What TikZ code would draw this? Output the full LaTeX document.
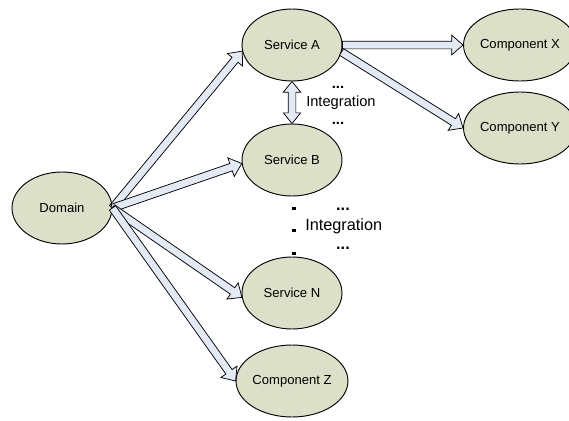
\documentclass[tikz,border=0pt]{standalone}
\usepackage{fontspec}
\setmainfont{Liberation Sans}
\usetikzlibrary{calc,shapes.geometric}
\definecolor{olivebg}{HTML}{DDE0C9}
\definecolor{arrowbg}{HTML}{E3E9F5}
\tikzset{
	part/.style={draw, ellipse, fill=olivebg, line width=0.7pt, minimum width=75pt, minimum height=54pt, inner sep=0pt, font=\fontsize{9.8}{11}\selectfont},
	conn/.style={draw, fill=arrowbg, line width=0.55pt, line join=miter},
	note/.style={inner sep=0pt, font=\fontsize{11}{13}\selectfont},
	bignote/.style={inner sep=0pt, font=\fontsize{12.2}{14}\selectfont}
}
% hollow block arrow from #1 to #2
\newcommand{\blockarrow}[2]{%
	\coordinate (neck) at ($(#2)!8.5pt!(#1)$);
	\filldraw[conn] ($(#1)!2.9pt!90:(#2)$) -- ($(neck)!2.9pt!90:(#2)$) -- ($(neck)!7.4pt!90:(#2)$) -- (#2)
		-- ($(neck)!7.4pt!-90:(#2)$) -- ($(neck)!2.9pt!-90:(#2)$) -- ($(#1)!2.9pt!-90:(#2)$) -- cycle;
}
% hollow block arrow with two heads
\newcommand{\dblarrow}[2]{%
	\coordinate (necka) at ($(#1)!8pt!(#2)$);
	\coordinate (neckb) at ($(#2)!8pt!(#1)$);
	\filldraw[conn] (#1) -- ($(necka)!6.5pt!90:(#2)$) -- ($(necka)!2.9pt!90:(#2)$) -- ($(neckb)!2.9pt!90:(#2)$)
		-- ($(neckb)!6.5pt!90:(#2)$) -- (#2) -- ($(neckb)!6.5pt!-90:(#2)$) -- ($(neckb)!2.9pt!-90:(#2)$)
		-- ($(necka)!2.9pt!-90:(#2)$) -- ($(necka)!6.5pt!-90:(#2)$) -- cycle;
}
\begin{document}
\begin{tikzpicture}[x=0.75pt, y=-0.75pt]
	\useasboundingbox (0,0) rectangle (569,421);

	\node [part] (dom) at (62, 208) {Domain};
	\node [part] (sa) at (292, 45) {Service A};
	\node [part] (sb) at (292, 160) {Service B};
	\node [part] (sn) at (292, 293) {Service N};
	\node [part] (cz) at (292, 381) {Component Z};
	\node [part, minimum width=73.5pt] (cx) at (520, 45) {Component X};
	\node [part, minimum width=73.5pt] (cy) at (520, 128) {Component Y};

	\blockarrow{dom.east}{sa.187}
	\blockarrow{dom.east}{sb.184}
	\blockarrow{dom.east}{sn.185}
	\blockarrow{dom.east}{cz.west}
	\blockarrow{sa.east}{cx.west}
	\blockarrow{sa.-8}{cy.west}
	\dblarrow{sa.south}{sb.north}

	% integration between A and B
	\node [note, anchor=base] (dotsa) at (338, 89) {\textbf{...}};
	\node [note, anchor=west] (inta) at (306, 103) {Integration};
	\node [note, anchor=base] (dotsb) at (338, 124) {\textbf{...}};

	% integration between B and N
	\node [bignote, anchor=base] (dotsc) at (343, 210) {\textbf{...}};
	\node [bignote, anchor=west] (intb) at (305, 226) {Integration};
	\node [bignote, anchor=base] (dotsd) at (343, 249) {\textbf{...}};
	\foreach \yy in {207, 229, 252}
		\fill (292, \yy) rectangle (296, \yy+3);
\end{tikzpicture}
\end{document}
